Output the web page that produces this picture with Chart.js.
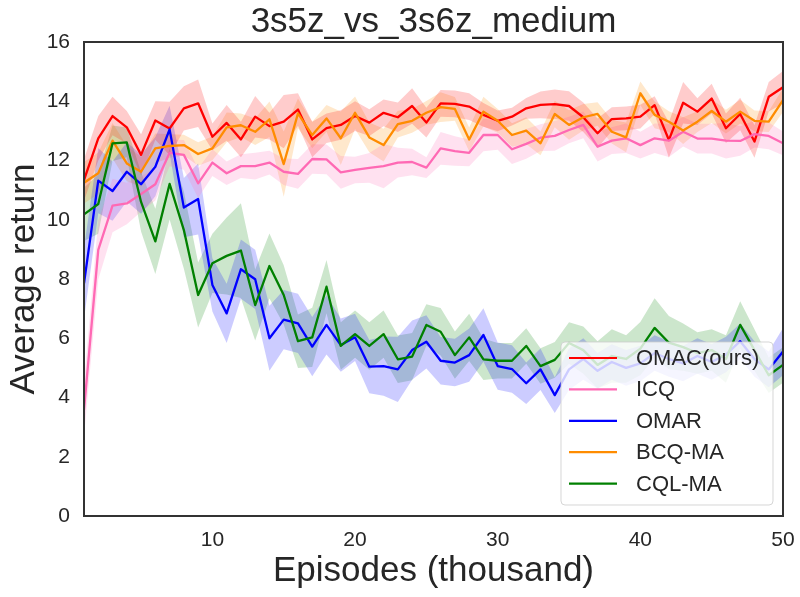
<!DOCTYPE html>
<html><head><meta charset="utf-8">
<script src="https://cdn.jsdelivr.net/npm/chart.js@4.4.1/dist/chart.umd.min.js"></script>
<style>html,body{margin:0;padding:0;background:#fff;}canvas{display:block;}</style>
</head><body>
<canvas id="c" width="800" height="597"></canvas>
<script>
const episodes = [1,2,3,4,5,6,7,8,9,10,11,12,13,14,15,16,17,18,19,20,21,22,23,24,25,26,27,28,29,30,31,32,33,34,35,36,37,38,39,40,41,42,43,44,45,46,47,48,49,50];
const xTicks = [10,20,30,40,50];
const yTicks = [0,2,4,6,8,10,12,14,16];
const titleText = '3s5z_vs_3s6z_medium';
const xLabel = 'Episodes (thousand)';
const yLabel = 'Average return';
const seriesNames = ['OMAC(ours)','ICQ','OMAR','BCQ-MA','CQL-MA'];
const seriesColors = ['#ff0000','#ff69b4','#0000ff','#ff8c00','#008000'];
const bandColors = ['rgba(255,0,0,0.2)','rgba(255,105,180,0.2)','rgba(0,0,255,0.2)','rgba(255,140,0,0.2)','rgba(0,128,0,0.2)'];

const omacMean = [11.34,12.75,13.5,13.12,12.19,13.35,13.08,13.76,13.93,12.8,13.27,12.71,13.48,13.16,13.31,13.72,12.71,13.09,13.2,13.5,13.28,13.61,13.46,13.84,13.28,13.93,13.91,13.82,13.54,13.34,13.48,13.76,13.88,13.9,13.84,13.46,12.92,13.4,13.42,13.48,13.87,12.69,13.95,13.65,14.09,13.09,13.57,12.64,14.15,14.47];
const omacStd = [0.7,0.75,0.65,0.55,0.7,0.65,0.9,0.75,0.8,0.45,0.6,0.6,0.7,0.45,0.9,0.55,0.6,0.5,0.5,0.5,0.45,0.45,0.5,0.6,0.5,0.45,0.45,0.45,0.4,0.35,0.3,0.35,0.45,0.5,0.5,0.5,0.5,0.4,0.4,0.4,0.3,0.6,0.7,0.45,0.5,0.5,0.55,0.55,0.5,0.55];

const icqMean = [3.58,8.98,10.48,10.55,10.87,11.2,12.26,12.19,11.23,11.93,11.57,11.81,11.81,11.93,11.62,11.55,12.05,12.04,11.6,11.68,11.75,11.81,11.93,11.95,11.76,12.41,12.32,12.26,12.86,12.86,12.38,12.56,12.77,12.83,13.03,13.2,12.47,12.67,12.75,12.52,12.75,12.67,12.97,12.74,12.74,12.67,12.66,12.89,12.83,12.58];
const icqStd = [0.9,1.0,0.9,0.7,0.6,0.55,0.45,0.5,0.5,0.45,0.4,0.4,0.45,0.4,0.45,0.5,0.5,0.5,0.55,0.45,0.5,0.75,0.5,0.45,0.35,0.55,0.5,0.45,0.55,0.5,0.5,0.5,0.45,0.5,0.45,0.45,0.5,0.45,0.5,0.45,0.5,0.55,0.5,0.5,0.5,0.6,0.5,0.45,0.45,0.4];

const omarMean = [7.85,11.32,10.97,11.62,11.2,11.79,13.05,10.41,10.7,7.8,6.84,8.33,7.99,6.0,6.63,6.5,5.72,6.45,5.77,6.03,5.04,5.06,4.95,5.6,5.88,5.24,5.18,5.43,6.11,5.06,4.96,4.48,4.95,4.08,4.95,5.3,4.9,5.2,5.0,5.15,5.5,5.3,5.15,5.4,5.2,5.45,5.9,5.3,4.95,5.55];
const omarStd = [1.2,1.1,1.0,1.0,1.0,1.0,0.8,1.0,1.2,0.9,1.0,1.0,1.0,1.1,1.0,1.0,1.0,1.0,0.9,0.8,0.9,1.0,1.1,1.0,0.9,0.8,0.8,0.9,0.9,0.8,0.8,0.7,0.7,0.6,0.7,0.7,0.6,0.6,0.6,0.6,0.6,0.6,0.6,0.6,0.6,0.6,0.6,0.6,0.6,0.8];

const bcqMean = [11.25,11.57,12.67,11.9,11.62,12.41,12.49,12.52,12.22,12.41,13.12,13.19,12.97,13.39,11.88,13.59,12.86,13.42,12.75,13.61,12.78,12.52,13.23,13.34,13.61,13.8,13.74,12.71,13.65,13.34,12.86,13.01,12.58,13.57,13.2,13.46,13.57,12.97,12.78,14.27,13.54,13.31,13.01,13.31,13.67,13.31,13.65,13.34,13.31,14.04];
const bcqStd = [0.7,0.7,0.6,0.6,0.5,0.5,0.4,0.35,0.4,0.4,0.5,0.4,0.45,0.6,1.1,0.5,0.45,0.45,0.9,0.55,0.5,0.55,0.45,0.4,0.4,0.5,0.4,0.4,0.5,0.4,0.4,0.45,0.4,0.45,0.5,0.45,0.4,0.4,0.5,0.4,0.45,0.35,0.45,0.35,0.4,0.4,0.4,0.35,0.35,0.4];

const cqlMean = [10.18,10.53,12.58,12.61,10.6,9.27,11.21,9.65,7.46,8.53,8.78,8.96,7.12,8.44,7.46,5.9,6.03,7.74,5.74,6.14,5.74,6.14,5.29,5.38,6.45,6.22,5.43,6.03,5.29,5.24,5.24,5.74,5.06,5.27,5.84,5.6,5.1,5.4,5.3,5.65,6.35,5.85,5.7,5.5,5.6,5.3,6.45,5.6,4.75,5.1];
const cqlStd = [0.9,1.0,0.6,0.5,1.0,1.1,1.2,1.3,1.1,1.0,1.3,1.6,1.2,1.1,1.0,0.9,1.0,0.9,0.8,0.8,0.8,0.8,0.8,0.8,0.7,0.8,0.8,0.8,0.7,0.6,0.6,0.6,0.6,0.6,0.7,0.8,0.8,0.9,0.8,0.9,1.0,0.9,0.8,0.7,0.7,0.8,0.8,0.7,0.6,0.6];

const means = [omacMean, icqMean, omarMean, bcqMean, cqlMean];
const stds = [omacStd, icqStd, omarStd, bcqStd, cqlStd];
const FONT = '"Liberation Sans", Arial, sans-serif';
const TEXT = '#262626';

const datasets = [];
means.forEach((m, k) => {
  datasets.push({
    label: seriesNames[k] + ' upper', isBand: true,
    data: episodes.map((x, i) => ({x: x, y: m[i] + stds[k][i]})),
    borderColor: 'rgba(0,0,0,0)', borderWidth: 0, pointRadius: 0, fill: false, order: 20
  });
  datasets.push({
    label: seriesNames[k] + ' lower', isBand: true,
    data: episodes.map((x, i) => ({x: x, y: m[i] - stds[k][i]})),
    borderColor: 'rgba(0,0,0,0)', borderWidth: 0, pointRadius: 0, fill: '-1',
    backgroundColor: bandColors[k], order: 20
  });
});
means.forEach((m, k) => {
  datasets.push({
    label: seriesNames[k], isBand: false,
    data: episodes.map((x, i) => ({x: x, y: m[i]})),
    borderColor: seriesColors[k], borderWidth: 2.3, pointRadius: 0, fill: false,
    tension: 0, borderJoinStyle: 'round', order: 5 - k
  });
});

const decor = {
  id: 'decor',
  afterDatasetsDraw(chart) {
    const ctx = chart.ctx, a = chart.chartArea;
    ctx.save();
    ctx.strokeStyle = '#333333';
    ctx.lineWidth = 2;
    ctx.strokeRect(a.left, a.top, a.right - a.left, a.bottom - a.top);
    ctx.fillStyle = TEXT;
    ctx.font = '35px ' + FONT;
    ctx.textAlign = 'center';
    ctx.textBaseline = 'alphabetic';
    const cx = (a.left + a.right) / 2;
    ctx.fillText(titleText, cx, 32);
    ctx.font = '35px ' + FONT;
    ctx.fillText(xLabel, cx, 581);
    ctx.save();
    ctx.translate(34, (a.top + a.bottom) / 2);
    ctx.rotate(-Math.PI / 2);
    ctx.fillText(yLabel, 0, 0);
    ctx.restore();
    ctx.restore();
  },
  afterDraw(chart) {
    const ctx = chart.ctx;
    const items = chart.data.datasets.filter(d => !d.isBand);
    const bx = 561, by = 342, bw = 212, bh = 163, r = 4;
    ctx.save();
    ctx.beginPath();
    ctx.moveTo(bx + r, by);
    ctx.arcTo(bx + bw, by, bx + bw, by + bh, r);
    ctx.arcTo(bx + bw, by + bh, bx, by + bh, r);
    ctx.arcTo(bx, by + bh, bx, by, r);
    ctx.arcTo(bx, by, bx + bw, by, r);
    ctx.closePath();
    ctx.fillStyle = 'rgba(255,255,255,0.8)';
    ctx.fill();
    ctx.strokeStyle = 'rgba(204,204,204,0.8)';
    ctx.lineWidth = 1;
    ctx.stroke();
    ctx.font = '22px ' + FONT;
    ctx.textAlign = 'left';
    ctx.textBaseline = 'middle';
    items.forEach((d, i) => {
      const y = 358 + i * 31.4;
      ctx.strokeStyle = d.borderColor;
      ctx.lineWidth = 2.2;
      ctx.beginPath();
      ctx.moveTo(569, y);
      ctx.lineTo(617, y);
      ctx.stroke();
      ctx.fillStyle = TEXT;
      ctx.fillText(d.label, 636, y + 1);
    });
    ctx.restore();
  }
};

new Chart(document.getElementById('c'), {
  type: 'line',
  data: { datasets: datasets },
  options: {
    responsive: false,
    animation: false,
    devicePixelRatio: 1,
    layout: { padding: { top: 42, right: 17, left: 0, bottom: 0 } },
    plugins: { legend: { display: false }, tooltip: { enabled: false }, filler: { propagate: false } },
    scales: {
      x: {
        type: 'linear', min: 1, max: 50,
        grid: { display: false, drawTicks: false },
        border: { display: false },
        afterBuildTicks: s => { s.ticks = xTicks.map(v => ({ value: v })); },
        afterFit: s => { s.height = 81; s.paddingLeft = 0; s.paddingRight = 0; },
        ticks: { font: { size: 21, family: FONT }, color: TEXT, padding: 12, maxRotation: 0 }
      },
      y: {
        min: 0, max: 16,
        grid: { display: false, drawTicks: false },
        border: { display: false },
        afterBuildTicks: s => { s.ticks = yTicks.map(v => ({ value: v })); },
        afterFit: s => { s.width = 84; s.paddingTop = 0; s.paddingBottom = 0; },
        ticks: { font: { size: 21, family: FONT }, color: TEXT, padding: 14 }
      }
    }
  },
  plugins: [decor]
});
</script>
</body></html>
